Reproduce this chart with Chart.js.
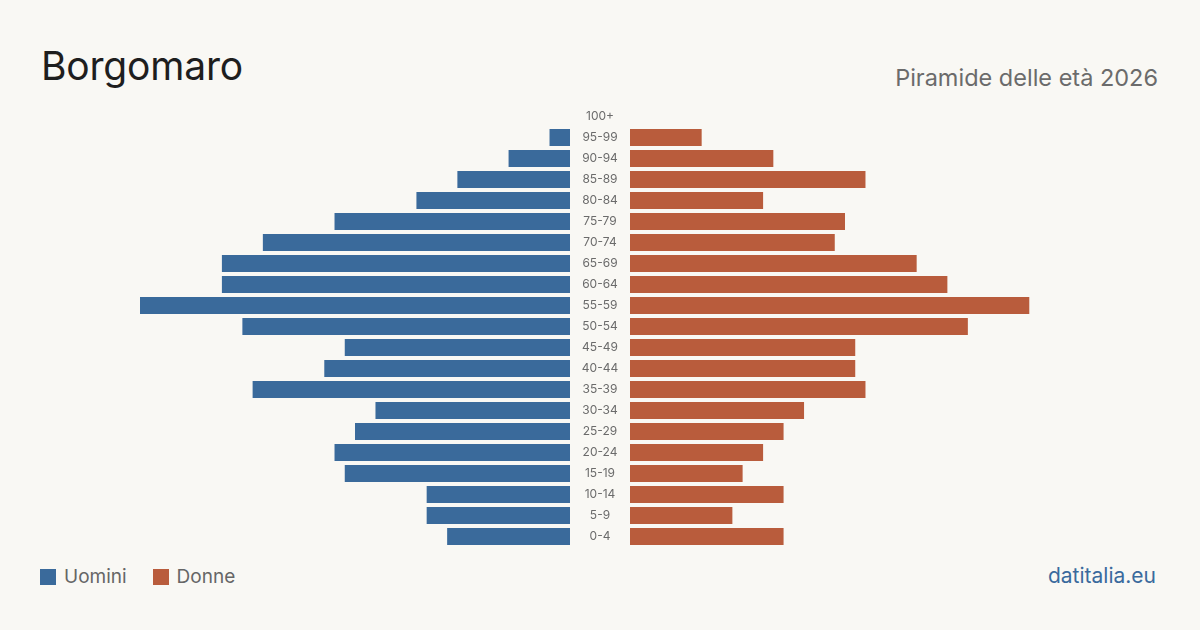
<!DOCTYPE html>
<html lang="it">
<head>
<meta charset="utf-8">
<title>Borgomaro - Piramide delle età 2026</title>
<script src="https://cdn.jsdelivr.net/npm/chart.js@4.4.0/dist/chart.umd.min.js"></script>
<style>
  * { box-sizing: border-box; }
  html, body { margin: 0; padding: 0; }
  body { width: 1200px; height: 630px; background: #f9f8f4; font-family: Inter, "Noto Sans", sans-serif; position: relative; overflow: hidden; }
  h1 { position: absolute; left: 41px; top: 41px; margin: 0; font-size: 39px; font-weight: 400; color: #1e1e1e; line-height: 50px; letter-spacing: -0.2px; }
  .sub { position: absolute; right: 42px; top: 63px; font-size: 23.5px; color: #6b6b6b; line-height: 30px; }
  .wrap { position: absolute; top: 106px; height: 441px; }
  #left { left: 140px; width: 430px; }
  #right { left: 570px; width: 490px; }
  .legend { position: absolute; left: 40px; top: 565px; font-size: 19px; color: #666; line-height: 24px; display: flex; }
  .legend span { display: inline-flex; align-items: center; margin-right: 26px; }
  .legend i { display: inline-block; width: 16px; height: 16px; margin-right: 8px; }
  .site { position: absolute; right: 44px; top: 563px; font-size: 21px; color: #3a6a9d; line-height: 26px; }
</style>
</head>
<body>
<h1>Borgomaro</h1>
<div class="sub">Piramide delle età 2026</div>
<div class="wrap" id="left"><canvas id="chartLeft"></canvas></div>
<div class="wrap" id="right"><canvas id="chartRight"></canvas></div>
<div class="legend">
  <span><i style="background:#3a6a9b"></i>Uomini</span>
  <span><i style="background:#b95c3c"></i>Donne</span>
</div>
<div class="site">datitalia.eu</div>
<script>
// fasce d'età dall'alto verso il basso
const ageGroups = ['100+', '95-99', '90-94', '85-89', '80-84', '75-79', '70-74', '65-69', '60-64', '55-59',
  '50-54', '45-49', '40-44', '35-39', '30-34', '25-29', '20-24', '15-19', '10-14', '5-9', '0-4'];
const uomini = [0, 2, 6, 11, 15, 23, 30, 34, 34, 42, 32, 22, 24, 31, 19, 21, 23, 22, 14, 14, 12];
const donne = [0, 7, 14, 23, 13, 21, 20, 28, 31, 39, 33, 22, 22, 23, 17, 15, 13, 11, 15, 10, 15];
const maxVal = 42;

const blue = '#3a6a9b';
const red = '#b95c3c';

// etichette delle fasce al centro, tra le due metà
const centerLabels = {
  id: 'centerLabels',
  afterDraw(chart) {
    const { ctx, chartArea, scales } = chart;
    ctx.save();
    ctx.fillStyle = '#6b6b6b';
    ctx.font = '12px Inter, sans-serif';
    ctx.textAlign = 'center';
    ctx.textBaseline = 'middle';
    ageGroups.forEach((g, i) => {
      ctx.fillText(g, chartArea.left - 30, scales.y.getPixelForValue(i));
    });
    ctx.restore();
  }
};

function barOpts(reverse, padLeft) {
  return {
    indexAxis: 'y',
    responsive: true,
    maintainAspectRatio: false,
    animation: false,
    layout: { padding: { left: padLeft, right: 0, top: 0, bottom: 0 } },
    plugins: { legend: { display: false }, tooltip: { enabled: false } },
    scales: {
      x: { min: 0, max: maxVal, reverse, display: false },
      y: { display: false }
    }
  };
}

new Chart(document.getElementById('chartLeft'), {
  type: 'bar',
  data: {
    labels: ageGroups,
    datasets: [{ label: 'Uomini', data: uomini, backgroundColor: blue, categoryPercentage: 1, barPercentage: 0.81 }]
  },
  options: barOpts(true, 0)
});

new Chart(document.getElementById('chartRight'), {
  type: 'bar',
  data: {
    labels: ageGroups,
    datasets: [{ label: 'Donne', data: donne, backgroundColor: red, categoryPercentage: 1, barPercentage: 0.81 }]
  },
  options: barOpts(false, 60),
  plugins: [centerLabels]
});
</script>
</body>
</html>
